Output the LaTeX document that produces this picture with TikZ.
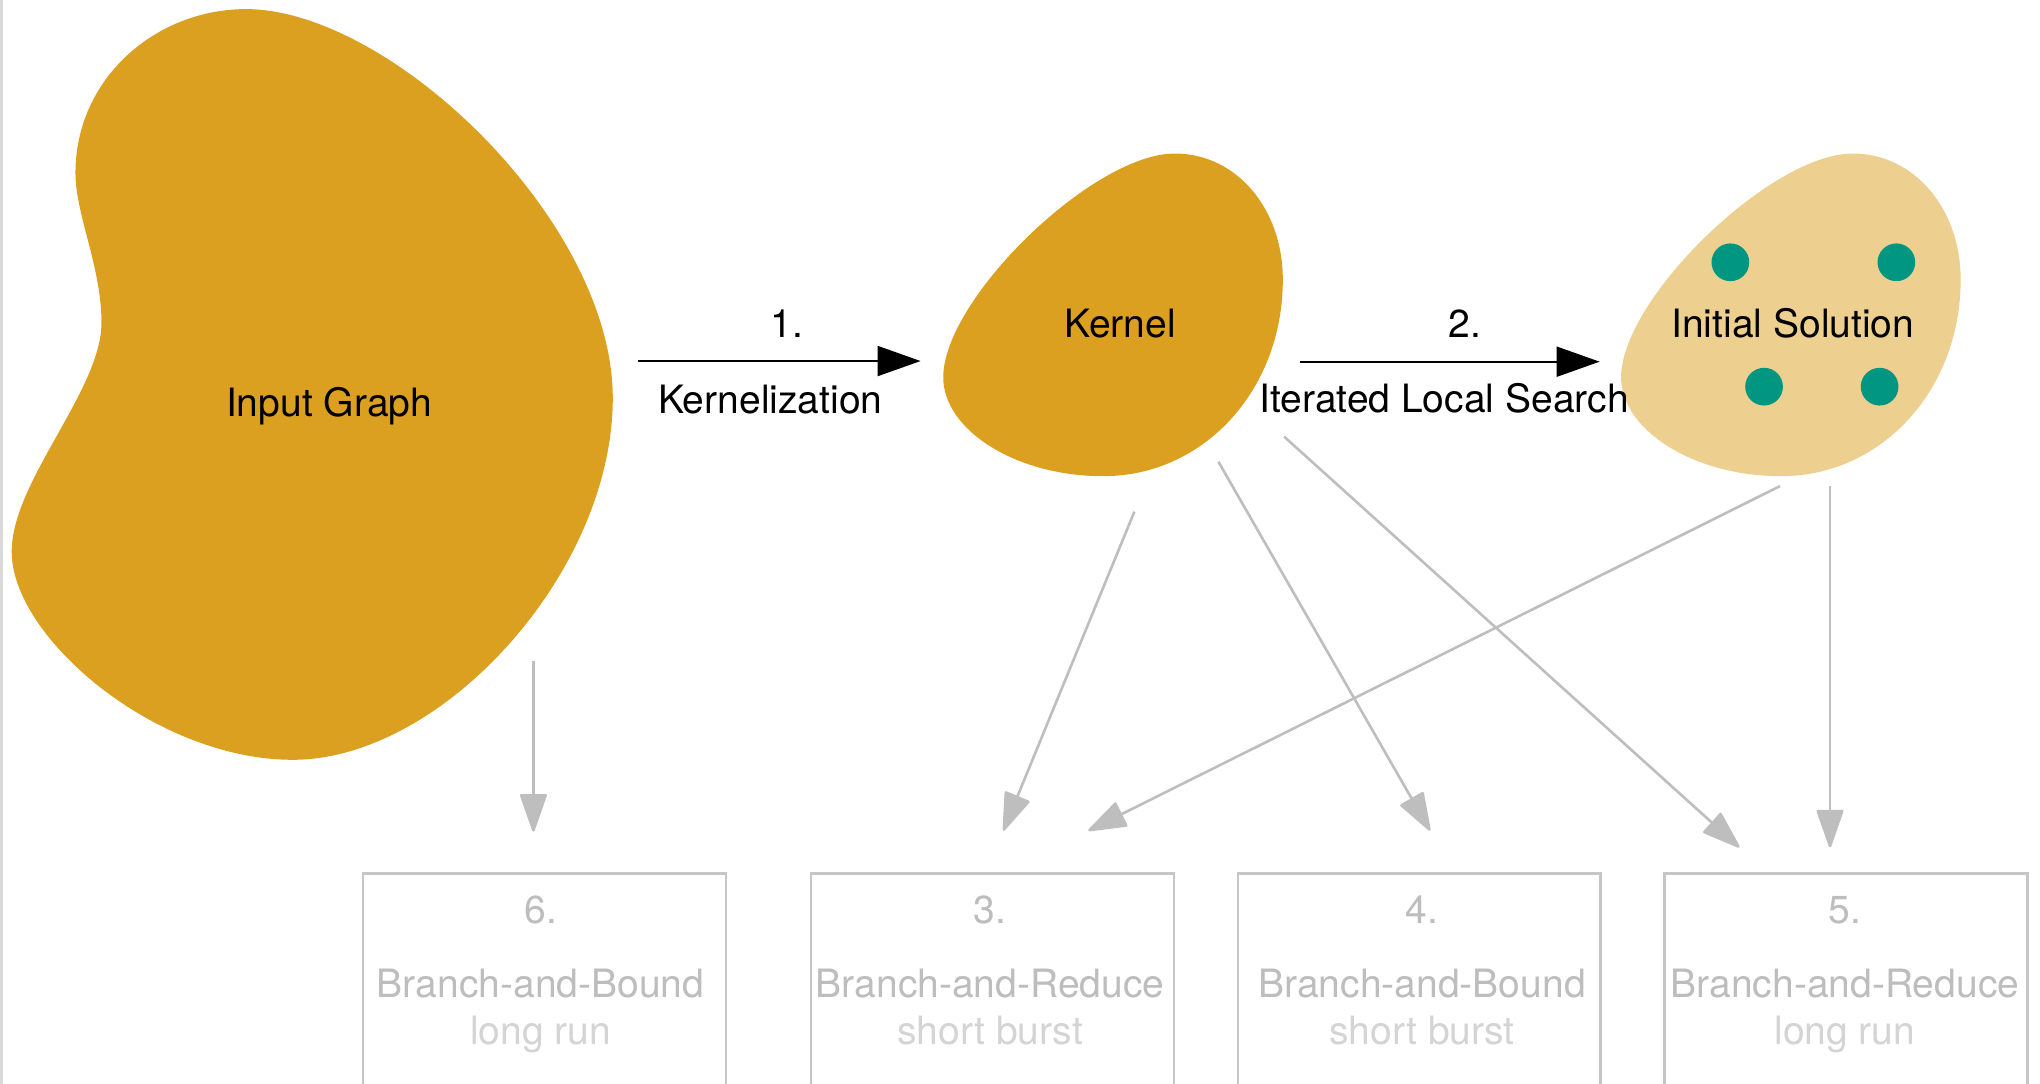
\documentclass[tikz,border=0pt]{standalone}
\usepackage{fontspec}
\setmainfont{TeX Gyre Heros}
\usetikzlibrary{arrows.meta}
\definecolor{blobgold}{HTML}{DBA020}
\definecolor{bloblight}{HTML}{EDD08F}
\definecolor{dotteal}{HTML}{009681}
\definecolor{arrowgray}{HTML}{BEBEBE}
\definecolor{boxgray}{HTML}{C6C6C6}
\definecolor{numgray}{HTML}{BDBDBD}
\definecolor{subgray}{HTML}{D4D4D4}
\definecolor{edgegray}{HTML}{D9D9D9}
\begin{document}
\begin{tikzpicture}[x=1pt,y=-1pt,
  font=\fontsize{30}{36}\selectfont,
  lbl/.style={anchor=base, inner sep=0pt, text=black},
  mainarrow/.style={draw=black, line width=1.6pt, -{Triangle[length=33pt,width=23pt]}},
  grayarrow/.style={draw=arrowgray, line width=2pt, -{Triangle[round,length=31pt,width=21pt]}},
  procbox/.style={draw=boxgray, line width=1.8pt, minimum width=279pt, minimum height=230pt, anchor=north, inner sep=0pt},
  numtxt/.style={anchor=base, inner sep=0pt, text=numgray},
  titletxt/.style={anchor=base, inner sep=0pt, text=numgray},
  subtxt/.style={anchor=base, inner sep=0pt, text=subgray},
  soldot/.style={circle, fill=dotteal, minimum size=29pt, inner sep=0pt}
]
\useasboundingbox (0,0) rectangle (1568,833);
\clip (0,0) rectangle (1568,833);
\fill[white] (0,0) rectangle (1568,833);
\fill[edgegray] (0,0) rectangle (2,833);

% blobs
\fill[blobgold] (189,7) .. controls (300,7) and (471,170) .. (471,306)
  .. controls (471,440) and (340,584) .. (225,584)
  .. controls (120,584) and (9,490) .. (9,424)
  .. controls (9,370) and (78,300) .. (78,248)
  .. controls (78,205) and (58,165) .. (58,133)
  .. controls (58,60) and (120,7) .. (189,7) -- cycle;
\fill[blobgold] (903,118) .. controls (950,118) and (986,160) .. (986,215)
  .. controls (986,300) and (925,366) .. (848,366)
  .. controls (780,366) and (725,330) .. (725,290)
  .. controls (725,230) and (840,118) .. (903,118) -- cycle;
\begin{scope}[xshift=521pt]
\fill[bloblight] (903,118) .. controls (950,118) and (986,160) .. (986,215)
  .. controls (986,300) and (925,366) .. (848,366)
  .. controls (780,366) and (725,330) .. (725,290)
  .. controls (725,230) and (840,118) .. (903,118) -- cycle;
\end{scope}

% solution dots
\node[soldot] (d1) at (1330,201.6) {};
\node[soldot] (d2) at (1457.6,201.6) {};
\node[soldot] (d3) at (1355.9,297.2) {};
\node[soldot] (d4) at (1444.7,297.2) {};

% boxes
\node[procbox] (b6) at (418.4,670.5) {};
\node[procbox] (b3) at (763,670.5) {};
\node[procbox] (b4) at (1090.8,670.5) {};
\node[procbox] (b5) at (1418.9,670.5) {};

\node[numtxt] (n6) at (415.5,709.5) {6.};
\node[titletxt] (t6) at (415.5,767) {Branch-and-Bound};
\node[subtxt] (s6) at (415.5,803) {long run};
\node[numtxt] (n3) at (761,709.5) {3.};
\node[titletxt] (t3) at (761,767) {Branch-and-Reduce};
\node[subtxt] (s3) at (761,803) {short burst};
\node[numtxt] (n4) at (1093,709.5) {4.};
\node[titletxt] (t4) at (1093,767) {Branch-and-Bound};
\node[subtxt] (s4) at (1093,803) {short burst};
\node[numtxt] (n5) at (1418,709.5) {5.};
\node[titletxt] (t5) at (1418,767) {Branch-and-Reduce};
\node[subtxt] (s5) at (1418,803) {long run};

% connector end points
\coordinate (g6s) at (410,508);
\coordinate (g6e) at (410,639.2);
\coordinate (k3s) at (871.9,393.3);
\coordinate (k3e) at (771.2,638.5);
\coordinate (s3s) at (1368.2,373.6);
\coordinate (s3e) at (836.5,638.5);
\coordinate (k4s) at (936.5,354.9);
\coordinate (k4e) at (1099.2,638.5);
\coordinate (k5s) at (987,335.6);
\coordinate (k5e) at (1336.9,651.3);
\coordinate (s5s) at (1406.6,373.6);
\coordinate (s5e) at (1406.6,651.3);
\coordinate (a1s) at (490.5,277.5);
\coordinate (a1e) at (707.6,277.5);
\coordinate (a2s) at (999.2,278);
\coordinate (a2e) at (1229.5,278);

\draw[grayarrow] (g6s) -- (g6e);
\draw[grayarrow] (k3s) -- (k3e);
\draw[grayarrow] (s3s) -- (s3e);
\draw[grayarrow] (k4s) -- (k4e);
\draw[grayarrow] (k5s) -- (k5e);
\draw[grayarrow] (s5s) -- (s5e);

\draw[mainarrow] (a1s) -- (a1e);
\draw[mainarrow] (a2s) -- (a2e);

% labels
\node[lbl] (input) at (253,320.5) {Input Graph};
\node[lbl] (l1) at (605,259.5) {1.};
\node[lbl] (kz) at (592,317.5) {Kernelization};
\node[lbl] (kernel) at (861,259.5) {Kernel};
\node[lbl] (l2) at (1126,259.5) {2.};
\node[lbl] (ils) at (1110,317) {Iterated Local Search};
\node[lbl] (init) at (1378,259.5) {Initial Solution};
\end{tikzpicture}
\end{document}
